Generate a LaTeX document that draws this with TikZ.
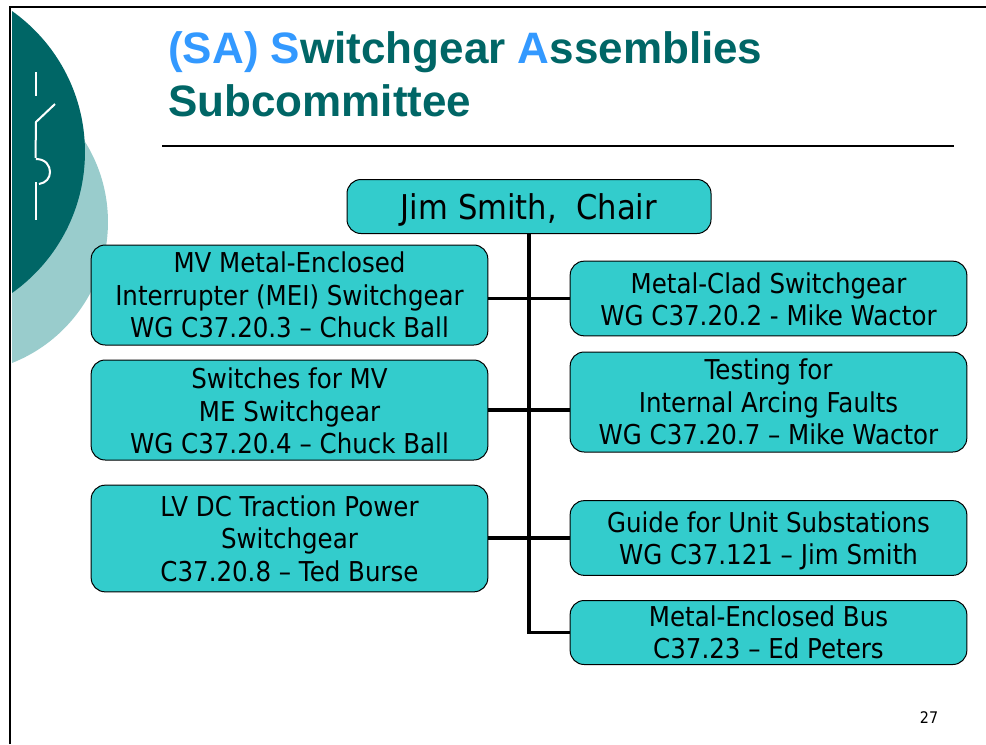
\documentclass[tikz,border=0pt]{standalone}
\usepackage{fontspec}
\setmainfont[FakeStretch=0.897]{DejaVu Sans}
\newfontfamily\titlefont{Liberation Sans}
\definecolor{deepteal}{HTML}{006666}
\definecolor{paleteal}{HTML}{99CCCC}
\definecolor{boxteal}{HTML}{33CCCC}
\definecolor{skyblue}{HTML}{3399FF}
\tikzset{
  orgbox/.style={draw=black,line width=0.75pt,fill=boxteal,rounded corners=10.5pt,align=center,inner sep=0pt,
    font=\fontsize{20.5pt}{24.3pt}\selectfont,text=black},
  wide/.style={minimum width=297.5pt},
  link/.style={draw=black,line width=2.4pt},
  trunk/.style={draw=black,line width=2.9pt,line join=miter},
  switchline/.style={draw=white,line width=1.5pt},
  titletext/.style={anchor=base west,inner sep=0pt,text=deepteal,font=\titlefont\bfseries\fontsize{33pt}{40pt}\selectfont}
}
\begin{document}
\begin{tikzpicture}[x=0.75pt,y=-0.75pt]
\useasboundingbox (0,0) rectangle (986,744);
\fill[white] (0,0) rectangle (986,744);
% decoration
\begin{scope}
\clip (12,8) rectangle (300,400);
\fill[paleteal] (-43.5,222) circle[radius=113.6pt];
\fill[deepteal] (-87.7,152) circle[radius=129.5pt];
\end{scope}
% frame
\draw[black,line width=1.5pt] (10,744) -- (10,6.5) -- (986,6.5);
% switch symbol
\draw[switchline] (36,72) -- (36,96);
\draw[switchline] (55,104) -- (36,122) -- (35.5,158);
\draw[switchline] (36,159) .. controls (46,159) and (50,166) .. (50,172) .. controls (50,178) and (46,183) .. (39,184);
\draw[switchline] (35.5,182) -- (35.5,220);
% title
\node[titletext] (t1) at (168,63) {\textcolor{skyblue}{(SA) S}witchgear \textcolor{skyblue}{A}ssemblies};
\node[titletext] (t2) at (168,116) {Subcommittee};
\coordinate (ruleL) at (162,146);
\coordinate (ruleR) at (954,146);
\draw[black,line width=0.9pt] (ruleL) -- (ruleR);
% boxes
\node[orgbox,minimum width=273pt,minimum height=40.5pt] (chair) at (529,206.5) {\fontsize{25.6pt}{28pt}\selectfont\rule{0pt}{24pt}Jim Smith,\ \ Chair};
\node[orgbox,wide,minimum height=75pt] (mei) at (289.5,295) {MV Metal-Enclosed\\Interrupter (MEI) Switchgear\\WG C37.20.3 – Chuck Ball};
\node[orgbox,wide,minimum height=75pt] (sw) at (289.5,410) {\rule{0pt}{17pt}Switches for MV\\ME Switchgear\\WG C37.20.4 – Chuck Ball};
\node[orgbox,wide,minimum height=80pt] (lv) at (289.5,538.5) {LV DC Traction Power\\Switchgear\\C37.20.8 – Ted Burse};
\node[orgbox,wide,minimum height=56pt] (mc) at (768.5,298.5) {\rule{0pt}{17pt}Metal-Clad Switchgear\\WG C37.20.2 - Mike Wactor};
\node[orgbox,wide,minimum height=75pt] (test) at (768.5,402) {Testing for\\Internal Arcing Faults\\WG C37.20.7 – Mike Wactor};
\node[orgbox,wide,minimum height=56pt] (guide) at (768.5,538) {\rule{0pt}{20pt}Guide for Unit Substations\\WG C37.121 – Jim Smith};
\node[orgbox,wide,minimum height=48pt] (bus) at (768.5,632.5) {Metal-Enclosed Bus\\C37.23 – Ed Peters};
% connectors
\draw[trunk] (chair.south) |- (bus.west);
\draw[link] (mc.west) -- (mc.west -| mei.east);
\draw[link] (sw.east) -- (sw.east -| test.west);
\draw[link] (guide.west) -- (guide.west -| lv.east);
% page number
\node[inner sep=0pt,font=\fontsize{12pt}{14pt}\selectfont] (pagenum) at (929,718) {27};
\end{tikzpicture}
\end{document}
